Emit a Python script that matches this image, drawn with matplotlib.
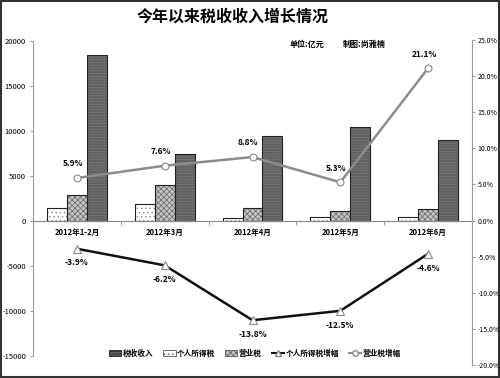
import matplotlib.pyplot as plt
from matplotlib.patches import Patch, Rectangle
from matplotlib.lines import Line2D
import numpy as np

plt.rcParams['font.family'] = ['Noto Sans CJK SC', 'DejaVu Sans']
plt.rcParams['hatch.linewidth'] = 0.5

# 数据 (亿元 / %)
categories = ["2012年1-2月", "2012年3月", "2012年4月", "2012年5月", "2012年6月"]
income_tax = [1400, 1900, 300, 400, 450]          # 个人所得税
business_tax = [2900, 4000, 1400, 1100, 1300]     # 营业税
total_tax = [18500, 7400, 9400, 10500, 9000]      # 税收收入
income_growth = [-3.9, -6.2, -13.8, -12.5, -4.6]  # 个人所得税增幅
business_growth = [5.9, 7.6, 8.8, 5.3, 21.1]      # 营业税增幅
left_ticks = [20000, 15000, 10000, 5000, 0, -5000, -10000, -15000]
right_ticks = [25, 20, 15, 10, 5, 0, -5, -10, -15, -20]

fig = plt.figure(figsize=(5, 3.78), dpi=100)
ax = fig.add_axes([0.066, 0.058, 0.878, 0.8335])
ax2 = fig.add_axes([0.066, 0.0344, 0.878, 0.8596])
ax2.patch.set_alpha(0)

x = np.arange(len(categories))
w = 0.227

# 柱子
ax.bar(x - w, income_tax, w, color='white', edgecolor='#888888', hatch='....', linewidth=0)
ax.bar(x - w, income_tax, w, color='none', edgecolor='#222222', linewidth=0.8)
ax.bar(x, business_tax, w, color='#c4c4c4', edgecolor='#666666', hatch='xxxxxx', linewidth=0)
ax.bar(x, business_tax, w, color='none', edgecolor='#222222', linewidth=0.8)
ax.bar(x + w, total_tax, w, color='#616161', edgecolor='#7c7c7c', hatch='------', linewidth=0)
ax.bar(x + w, total_tax, w, color='none', edgecolor='#222222', linewidth=0.8)

ax.set_xlim(-0.5, 4.5)
ax.set_ylim(-15000, 20000)
ax.set_yticks(left_ticks)
ax.set_yticklabels([str(t) for t in left_ticks], fontsize=5.5)
ax.tick_params(axis='y', length=2, width=0.6, color='#888888', pad=3)

ax.spines['bottom'].set_position(('data', 0))
ax.spines['bottom'].set_color('#888888')
ax.spines['left'].set_color('#999999')
ax.spines['top'].set_visible(False)
ax.spines['right'].set_visible(False)
ax.set_xticks(np.arange(0.5, 4.5, 1))
ax.set_xticklabels([])
ax.set_xticks(x, minor=True)
ax.set_xticklabels(categories, minor=True, fontsize=5.5, fontweight='bold')
ax.tick_params(axis='x', which='major', length=3, width=0.6, color='#888888', direction='out')
ax.tick_params(axis='x', which='minor', length=0, pad=5)

# 折线
ax2.set_xlim(-0.5, 4.5)
ax2.set_ylim(-20, 25)
ax2.plot(x, business_growth, color='#8c8c8c', lw=1.8, marker='o', ms=5,
         mfc='white', mec='#888888', mew=0.8, zorder=3)
ax2.plot(x, income_growth, color='#111111', lw=1.8, marker='^', ms=5.5,
         mfc='white', mec='#888888', mew=0.8, zorder=3)
for xi, v in zip(x, business_growth):
    ax2.annotate(f"{v:.1f}%", (xi, v), xytext=(-3, 7), textcoords='offset points',
                 ha='center', va='bottom', fontsize=6, fontweight='bold')
for xi, v in zip(x, income_growth):
    ax2.annotate(f"{v:.1f}%", (xi, v), xytext=(0, -7), textcoords='offset points',
                 ha='center', va='top', fontsize=6, fontweight='bold')

ax2.yaxis.tick_right()
ax2.set_yticks(right_ticks)
ax2.set_yticklabels([f"{t:.1f}%" for t in right_ticks], fontsize=5)
ax2.tick_params(axis='y', length=2, width=0.6, color='#888888', pad=2)
ax2.set_xticks([])
for s in ['top', 'left', 'bottom']:
    ax2.spines[s].set_visible(False)
ax2.spines['right'].set_color('#999999')

# 标题
fig.text(0.466, 0.955, "今年以来税收收入增长情况", ha='center', va='center',
         fontsize=11.5, fontweight='bold')
fig.text(0.58, 0.883, "单位:亿元", ha='left', va='center', fontsize=5.8, fontweight='bold')
fig.text(0.686, 0.883, "制图:尚雅楠", ha='left', va='center', fontsize=5.8, fontweight='bold')

# 图例
handles = [
    Patch(facecolor='#616161', edgecolor='#222222', hatch='------', linewidth=0.6),
    Patch(facecolor='white', edgecolor='#555555', hatch='....', linewidth=0.6),
    Patch(facecolor='#c4c4c4', edgecolor='#555555', hatch='xxxxxx', linewidth=0.6),
    Line2D([], [], color='#111111', lw=1.5, marker='^', ms=4, mfc='white', mec='#888888'),
    Line2D([], [], color='#8c8c8c', lw=1.5, marker='o', ms=4, mfc='white', mec='#888888'),
]
labels = ["税收收入", "个人所得税", "营业税", "个人所得税增幅", "营业税增幅"]
fig.legend(handles, labels, loc='center', bbox_to_anchor=(0.51, 0.066), ncol=5,
           frameon=False, prop={'size': 5.5, 'weight': 'bold'}, handlelength=1.6,
           handleheight=0.8, handletextpad=0.2, columnspacing=1.3)

# 边框
fig.patches.append(Rectangle((0.002, 0.003), 0.996, 0.994, transform=fig.transFigure,
                             fill=False, edgecolor='#333333', linewidth=1.5))

fig.savefig("out.png", dpi=100)
